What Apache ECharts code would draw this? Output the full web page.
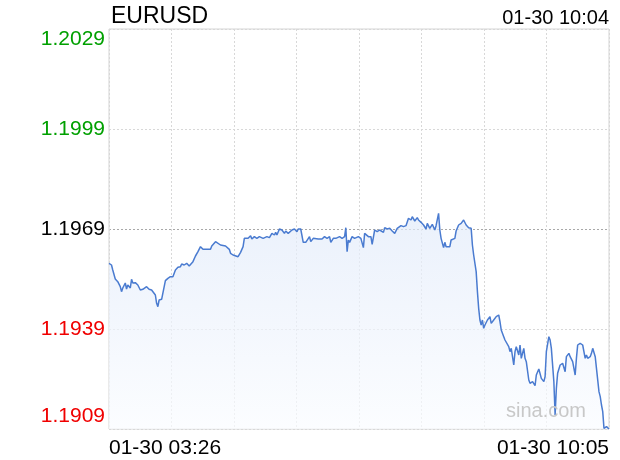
<!DOCTYPE html>
<html>
<head>
<meta charset="utf-8">
<script src="https://cdn.jsdelivr.net/npm/echarts@6/dist/echarts.min.js"></script>
<style>html,body{margin:0;padding:0;background:#fff}#c{width:620px;height:460px}</style>
</head>
<body>
<div id="c"></div>
<script>
// ---- data ----
const symbol = 'EURUSD';
const stamp = '01-30 10:04';
const xTickLabels = ['01-30 03:26', '01-30 10:05'];
const yTickLabels = ['1.1909', '1.1939', '1.1969', '1.1999', '1.2029'];
const prevClose = 1.1969;
// minutes after 01-30 03:26
const minutes = [
  0,2,3,5,7,9,10,11,13,14,15,17,18,19,21,23,25,26,27,30,32,34,35,37,38,39,40,42,43,45,
  47,49,51,53,55,57,58,60,62,64,65,67,69,71,73,75,78,81,82,85,86,89,93,96,97,99,103,105,107,108,
  109,111,113,114,116,118,120,123,126,128,130,132,133,134,136,138,140,141,143,144,146,148,150,151,153,155,157,158,160,161,
  163,164,167,170,172,174,176,177,179,181,184,186,188,189,190,191,192,194,196,199,201,203,204,207,209,210,212,214,216,219,
  220,222,224,226,228,230,231,233,235,237,239,241,242,244,246,247,249,251,253,254,256,258,260,261,263,264,265,267,268,269,
  272,273,276,277,279,281,283,285,287,289,290,291,293,294,295,296,297,298,299,300,302,304,305,307,309,311,312,313,315,316,
  317,319,320,321,323,324,325,327,328,329,331,332,333,335,336,338,340,341,343,344,345,347,348,349,351,352,353,355,356,357,
  358,359,360,362,364,365,367,368,370,372,373,374,376,378,380,381,382,384,385,386,388,389,391,392,393,394,395,397,399
];
const prices = [
  1.19587,1.19582,1.19567,1.19540,1.19532,1.19517,1.19502,1.19513,1.19528,1.19510,1.19522,1.19513,1.19539,1.19528,1.19529,1.19522,1.19507,1.19502,1.19509,1.19517,1.19509,1.19507,1.19502,1.19492,1.19467,1.19457,1.19477,1.19479,1.19482,1.19535,
  1.19542,1.19547,1.19547,1.19567,1.19575,1.19577,1.19585,1.19582,1.19587,1.19579,1.19582,1.19592,1.19609,1.19622,1.19637,1.19629,1.19629,1.19629,1.19639,1.19652,1.19657,1.19642,1.19639,1.19629,1.19617,1.19612,1.19607,1.19620,1.19637,1.19662,
  1.19667,1.19662,1.19670,1.19660,1.19667,1.19662,1.19667,1.19662,1.19667,1.19664,1.19677,1.19672,1.19680,1.19672,1.19690,1.19687,1.19677,1.19684,1.19677,1.19672,1.19687,1.19690,1.19682,1.19690,1.19690,1.19650,1.19650,1.19652,1.19667,1.19652,
  1.19662,1.19660,1.19660,1.19660,1.19667,1.19662,1.19667,1.19650,1.19662,1.19662,1.19667,1.19662,1.19667,1.19694,1.19622,1.19657,1.19650,1.19667,1.19662,1.19667,1.19662,1.19634,1.19677,1.19667,1.19667,1.19644,1.19687,1.19682,1.19687,1.19680,
  1.19694,1.19690,1.19692,1.19684,1.19677,1.19692,1.19690,1.19700,1.19697,1.19700,1.19722,1.19717,1.19727,1.19714,1.19724,1.19717,1.19710,1.19702,1.19690,1.19707,1.19692,1.19704,1.19687,1.19700,1.19737,1.19687,1.19662,1.19634,1.19650,1.19637,
  1.19637,1.19657,1.19662,1.19684,1.19702,1.19707,1.19717,1.19702,1.19694,1.19692,1.19642,1.19612,1.19562,1.19502,1.19452,1.19417,1.19402,1.19417,1.19392,1.19402,1.19417,1.19427,1.19407,1.19417,1.19427,1.19432,1.19412,1.19387,1.19367,1.19357,
  1.19352,1.19337,1.19322,1.19332,1.19282,1.19322,1.19337,1.19312,1.19342,1.19302,1.19332,1.19302,1.19292,1.19237,1.19227,1.19232,1.19220,1.19252,1.19270,1.19267,1.19242,1.19232,1.19247,1.19322,1.19367,1.19357,1.19332,1.19232,1.19132,1.19212,
  1.19257,1.19262,1.19282,1.19287,1.19262,1.19307,1.19317,1.19307,1.19292,1.19252,1.19302,1.19342,1.19347,1.19342,1.19302,1.19312,1.19302,1.19307,1.19317,1.19332,1.19307,1.19272,1.19202,1.19187,1.19162,1.19142,1.19092,1.19097,1.19090
];

// ---- chart ----
const FONT = '"Liberation Sans", Arial, Helvetica, sans-serif';
const yMin = parseFloat(yTickLabels[0]);
const yMax = parseFloat(yTickLabels[yTickLabels.length - 1]);
const yStep = 0.003;
const xMax = 399;
const seriesData = minutes.map((m, i) => [m, prices[i]]);

const chart = echarts.init(document.getElementById('c'), null, {renderer: 'canvas'});
chart.setOption({
  animation: false,
  backgroundColor: '#ffffff',
  title: [
    {text: symbol, left: 111, top: 5, padding: 0, textStyle: {fontFamily: FONT, fontSize: 23, fontWeight: 'normal', color: '#000'}},
    {text: stamp, right: 11, top: 8, padding: 0, textStyle: {fontFamily: FONT, fontSize: 20, fontWeight: 'normal', color: '#000'}}
  ],
  grid: {left: 109, top: 29, width: 500, height: 400, show: true, borderColor: '#d4d4d4', borderWidth: 1, containLabel: false},
  xAxis: {
    type: 'value', min: 0, max: xMax, interval: xMax / 8,
    axisLine: {show: false}, axisTick: {show: false},
    splitLine: {show: true, lineStyle: {color: '#d8d8d8', type: [2, 2], width: 1}},
    axisLabel: {
      show: true, margin: 9, fontFamily: FONT, fontSize: 21, color: '#000',
      alignMinLabel: 'left', alignMaxLabel: 'right',
      formatter: function (v) {
        if (v === 0) return xTickLabels[0];
        if (Math.abs(v - xMax) < 1e-6) return xTickLabels[1];
        return '';
      }
    }
  },
  yAxis: {
    type: 'value', min: yMin, max: yMax, interval: yStep,
    axisLine: {show: false}, axisTick: {show: false},
    splitLine: {show: true, lineStyle: {color: ['#d8d8d8', '#d8d8d8', '#a8a8a8', '#d8d8d8', '#d8d8d8'], type: [2, 2], width: 1}},
    axisLabel: {
      margin: 4, fontFamily: FONT, fontSize: 21,
      formatter: function (v, idx) {
        const s = yTickLabels[idx] !== undefined ? yTickLabels[idx] : v.toFixed(4);
        const val = parseFloat(s);
        let key;
        if (Math.abs(val - prevClose) < 1e-7) key = 'k';
        else if (val > prevClose) key = (idx === yTickLabels.length - 1) ? 'gTop' : 'g';
        else key = (idx === 0) ? 'rBot' : 'r';
        return '{' + key + '|' + s + '}';
      },
      rich: {
        gTop: {color: '#00a000', fontSize: 21, fontFamily: FONT, padding: [21, 0, 0, 0]},
        g: {color: '#00a000', fontSize: 21, fontFamily: FONT},
        k: {color: '#000000', fontSize: 21, fontFamily: FONT},
        r: {color: '#f00000', fontSize: 21, fontFamily: FONT},
        rBot: {color: '#f00000', fontSize: 21, fontFamily: FONT, padding: [0, 0, 26, 0]}
      }
    }
  },
  graphic: [{
    type: 'text', left: 506, top: 401, z: 100, silent: true,
    style: {text: 'sina.com', fill: '#c8c8c8', font: '20px ' + FONT}
  }],
  series: [{
    type: 'line', data: seriesData, showSymbol: false, smooth: false, z: 3,
    lineStyle: {color: '#4a7bd0', width: 1.5},
    areaStyle: {
      origin: 'start',
      color: new echarts.graphic.LinearGradient(0, 0, 0, 1, [
        {offset: 0, color: '#e2ebfa'},
        {offset: 1, color: '#fafcff'}
      ])
    }
  }]
});
</script>
</body>
</html>
